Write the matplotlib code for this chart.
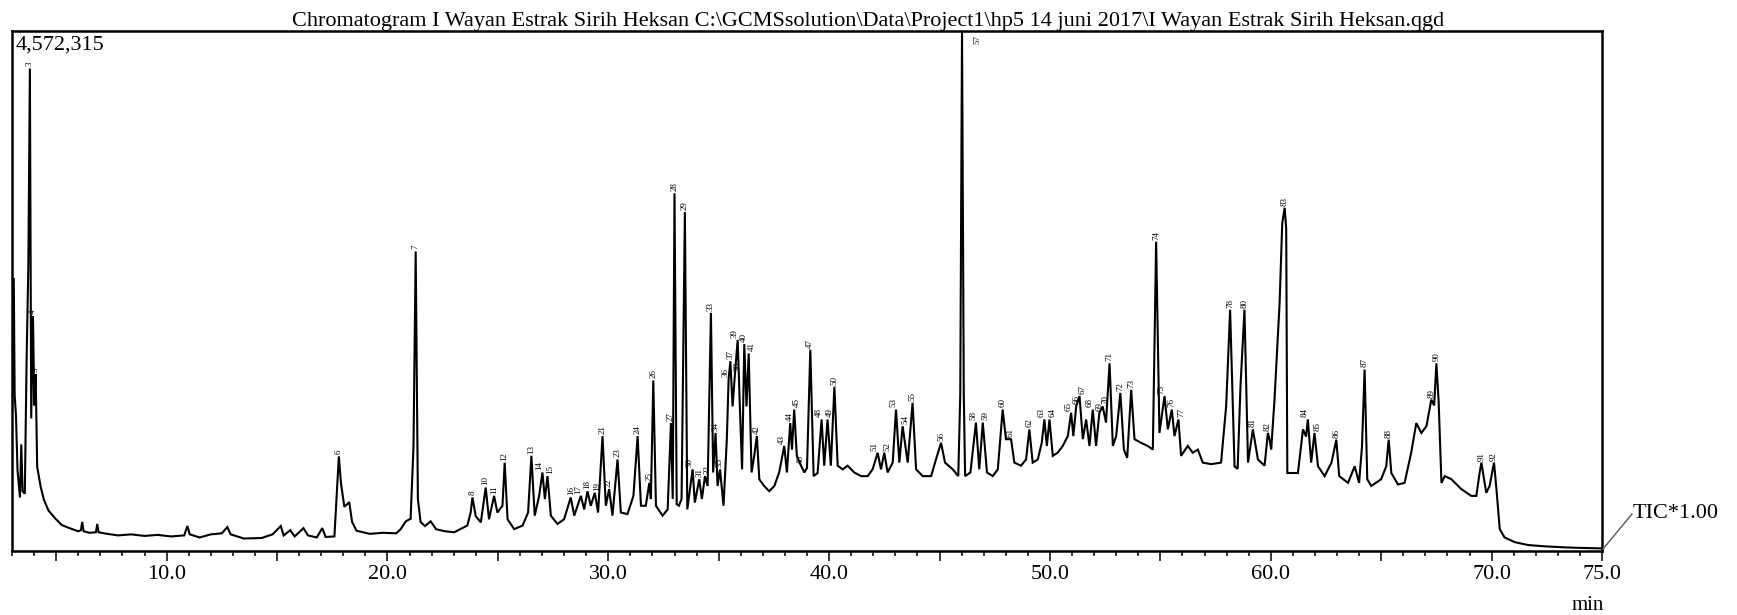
import numpy as np
import matplotlib
matplotlib.use("Agg")
import matplotlib.pyplot as plt
from matplotlib.lines import Line2D
from matplotlib.ticker import FixedLocator, MultipleLocator, FuncFormatter

plt.rcParams['font.family'] = ['Liberation Serif', 'DejaVu Serif']

title = (r"Chromatogram I Wayan Estrak Sirih Heksan C:\GCMSsolution\Data\Project1"
         r"\hp5 14 juni 2017\I Wayan Estrak Sirih Heksan.qgd")
max_intensity = 4572315
detector = "TIC*1.00"

# TIC trace: (retention time [min], intensity [% of max])
trace_early = [
    (3.00, 27.0), (3.05, 42.0), (3.08, 52.5), (3.12, 30.0), (3.18, 26.0), (3.25, 15.5),
    (3.36, 10.3), (3.42, 20.5), (3.48, 11.5), (3.58, 11.0), (3.66, 36.5), (3.74, 55.0),
    (3.81, 92.8), (3.87, 25.5), (3.95, 45.2), (4.01, 28.0), (4.07, 34.0), (4.14, 16.2),
    (4.30, 12.3), (4.45, 9.8), (4.65, 7.8), (4.95, 6.3), (5.25, 5.0), (5.60, 4.4),
    (6.00, 3.8), (6.12, 4.0), (6.18, 5.6), (6.24, 3.8), (6.50, 3.5), (6.80, 3.6),
    (6.86, 5.2), (6.92, 3.6), (7.30, 3.3), (7.80, 3.0), (8.40, 3.2), (9.00, 2.9),
    (9.60, 3.1), (10.20, 2.8), (10.80, 3.0), (10.94, 4.8), (11.05, 3.2), (11.50, 2.6),
    (12.00, 3.2), (12.50, 3.4), (12.75, 4.6), (12.90, 3.2), (13.50, 2.4), (14.30, 2.5),
    (14.80, 3.2), (15.17, 4.8), (15.30, 3.0), (15.60, 4.0), (15.80, 2.8), (16.20, 4.4),
    (16.40, 3.0), (16.80, 2.6), (17.05, 4.4), (17.20, 2.7), (17.60, 2.8), (17.72, 12.0),
    (17.80, 18.2), (17.90, 12.9), (18.05, 8.5), (18.27, 9.4), (18.40, 5.6), (18.60, 3.9),
    (19.20, 3.3), (19.80, 3.5), (20.40, 3.4), (20.60, 4.2), (20.83, 5.7), (21.05, 6.2),
    (21.18, 20.0), (21.28, 57.6), (21.38, 10.0), (21.50, 5.6), (21.70, 4.8), (21.96, 5.7),
    (22.20, 4.2), (22.60, 3.8), (23.02, 3.6),
]
trace_middle = [
    (23.30, 4.2), (23.62, 4.9), (23.77, 7.4), (23.85, 10.3), (24.00, 6.7), (24.23, 5.5),
    (24.45, 12.2), (24.60, 6.1), (24.83, 10.6), (24.98, 7.4), (25.21, 8.7), (25.31, 17.0),
    (25.44, 6.1), (25.74, 4.2), (26.12, 4.9), (26.37, 7.4), (26.52, 18.3), (26.67, 6.8),
    (26.87, 10.6), (27.02, 15.1), (27.13, 10.0), (27.25, 14.4), (27.40, 6.8), (27.70, 5.2),
    (28.00, 6.1), (28.30, 10.3), (28.46, 6.8), (28.76, 10.6), (28.91, 8.0), (29.06, 11.5),
    (29.21, 8.7), (29.39, 11.2), (29.54, 7.4), (29.74, 22.1), (29.89, 8.7), (30.04, 11.9),
    (30.19, 6.8), (30.42, 17.6), (30.57, 7.4), (30.87, 7.1), (31.14, 10.6), (31.33, 22.1),
    (31.48, 8.7), (31.70, 8.7), (31.86, 13.1), (31.93, 10.0), (32.04, 32.8), (32.16, 8.7),
    (32.46, 6.8), (32.69, 8.0), (32.84, 24.6), (32.92, 10.0), (33.00, 68.8), (33.10, 9.0),
    (33.20, 8.7), (33.32, 10.0), (33.47, 65.2), (33.58, 8.0), (33.82, 15.7), (33.92, 9.3),
    (34.12, 13.8), (34.24, 10.0), (34.38, 14.4), (34.50, 12.5), (34.65, 45.8), (34.75, 15.1),
    (34.86, 22.7), (34.95, 12.5), (35.06, 15.7), (35.22, 8.7), (35.37, 21.5), (35.45, 33.0),
    (35.53, 36.5), (35.63, 27.8), (35.74, 34.2), (35.86, 40.6), (35.96, 27.8), (36.06, 15.7),
    (36.16, 39.8), (36.26, 27.8), (36.36, 38.0), (36.49, 15.1), (36.61, 18.3), (36.73, 22.1),
    (36.84, 13.8), (37.06, 12.5), (37.29, 11.5), (37.52, 12.5), (37.74, 15.1), (37.97, 20.2),
    (38.09, 15.1), (38.24, 24.6), (38.32, 19.5), (38.42, 27.2), (38.54, 18.3), (38.73, 16.4),
    (38.88, 15.1), (39.00, 16.0), (39.15, 38.7), (39.30, 14.4), (39.48, 15.0), (39.66, 25.3),
    (39.78, 16.4), (39.93, 25.3), (40.08, 16.4), (40.24, 31.6), (40.39, 16.4), (40.62, 15.7),
    (40.84, 16.4), (41.14, 15.1), (41.45, 14.4), (41.75, 14.4), (41.97, 15.7), (42.20, 18.9),
]
trace_late = [
    (42.35, 15.7), (42.50, 18.9), (42.65, 15.1), (42.88, 17.0), (43.03, 27.2), (43.18, 17.0),
    (43.33, 24.0), (43.56, 17.0), (43.78, 28.5), (43.94, 15.7), (44.24, 14.4), (44.62, 14.4),
    (44.84, 17.6), (45.07, 20.8), (45.25, 17.0), (45.60, 15.7), (45.85, 14.4), (45.94, 30.0),
    (46.02, 100.0), (46.10, 30.0), (46.16, 14.4), (46.40, 15.1), (46.65, 24.7), (46.80, 15.7),
    (46.96, 24.7), (47.15, 15.1), (47.41, 14.4), (47.64, 15.7), (47.86, 27.2), (48.01, 21.5),
    (48.24, 21.5), (48.39, 17.0), (48.69, 16.4), (48.92, 17.6), (49.07, 23.4), (49.22, 17.0),
    (49.45, 17.6), (49.63, 20.8), (49.75, 25.3), (49.86, 20.2), (49.98, 25.3), (50.13, 18.3),
    (50.35, 18.9), (50.58, 20.2), (50.81, 22.1), (50.96, 26.6), (51.06, 22.1), (51.19, 27.8),
    (51.34, 29.8), (51.49, 21.5), (51.64, 25.3), (51.79, 20.2), (51.94, 27.2), (52.09, 20.2),
    (52.24, 26.6), (52.39, 27.8), (52.54, 24.7), (52.70, 36.1), (52.85, 20.2), (53.00, 22.1),
    (53.19, 30.4), (53.35, 19.5), (53.50, 17.9), (53.68, 31.0), (53.83, 21.5), (54.13, 20.8),
    (54.43, 20.2), (54.66, 19.5), (54.81, 59.5), (54.96, 22.7), (55.19, 29.8), (55.34, 23.4),
    (55.52, 27.2), (55.64, 22.1), (55.82, 25.3), (55.94, 18.3), (56.24, 20.2), (56.47, 18.9),
    (56.70, 19.5), (56.92, 17.0), (57.30, 16.7), (57.75, 17.0), (57.98, 27.8), (58.16, 46.4),
    (58.36, 16.3), (58.50, 15.8), (58.63, 31.7), (58.81, 46.4), (58.97, 17.0), (59.19, 23.4),
    (59.42, 17.6), (59.72, 16.4), (59.87, 22.7), (59.95, 21.4), (60.02, 19.5), (60.17, 29.1),
    (60.40, 47.6), (60.52, 63.0), (60.63, 66.0), (60.70, 62.0), (60.75, 15.0), (61.23, 15.0),
    (61.46, 23.4), (61.60, 22.0), (61.68, 25.3), (61.83, 17.0), (61.98, 22.7), (62.14, 16.3),
    (62.44, 14.4), (62.75, 17.0), (62.97, 21.4), (63.10, 14.4), (63.50, 13.1), (63.80, 16.3),
    (64.00, 13.1), (64.13, 20.0), (64.25, 34.9), (64.37, 13.8), (64.55, 12.5), (65.00, 13.8),
    (65.23, 16.3), (65.34, 21.4), (65.46, 15.0), (65.76, 12.8), (66.06, 13.1), (66.36, 18.9),
    (66.59, 24.6), (66.82, 22.7), (67.05, 24.0), (67.27, 29.1), (67.40, 28.0), (67.50, 36.1),
    (67.60, 29.0), (67.73, 13.1), (67.88, 14.4), (68.18, 13.8), (68.63, 11.9), (69.08, 10.6),
    (69.31, 10.6), (69.46, 15.1), (69.54, 17.0), (69.65, 14.0), (69.76, 11.2), (69.91, 12.5),
    (70.11, 17.0), (70.22, 11.9), (70.37, 4.2), (70.59, 2.6), (71.05, 1.7), (71.65, 1.15),
    (72.40, 0.9), (73.30, 0.7), (74.00, 0.6), (75.00, 0.5),
]

# labelled peaks: number and retention time
peak_no = [3, 4, 5, 6, 7, 8, 10, 11, 12, 13, 14, 15, 16, 17, 18, 19, 21, 22, 23, 24,
           25, 26, 27, 28, 29, 30, 31, 32, 33, 34, 35, 36, 37, 38, 39, 40, 41, 42, 43, 44,
           45, 46, 47, 48, 49, 50, 51, 52, 53, 54, 55, 56, 57, 58, 59, 60, 61, 62, 63, 64,
           65, 66, 67, 68, 69, 70, 71, 72, 73, 74, 75, 76, 77, 78, 80, 81, 82, 83, 84, 85,
           86, 87, 88, 89, 90, 91, 92]
peak_rt = [3.81, 3.95, 4.07, 17.80, 21.28, 23.85, 24.45, 24.83, 25.31, 26.52, 27.02, 27.25,
           28.30, 28.76, 29.06, 29.39, 29.74, 30.04, 30.42, 31.33, 31.86, 32.04, 32.84, 33.00,
           33.47, 33.82, 34.12, 34.38, 34.65, 34.86, 35.06, 35.45, 35.53, 35.74, 35.86, 36.16,
           36.36, 36.73, 37.97, 38.24, 38.42, 38.73, 39.15, 39.66, 39.93, 40.24, 42.20, 42.50,
           43.03, 43.33, 43.78, 45.07, 46.02, 46.65, 46.96, 47.86, 48.24, 49.07, 49.75, 49.98,
           50.96, 51.19, 51.34, 51.94, 52.24, 52.39, 52.70, 53.19, 53.68, 54.81, 55.19, 55.52,
           55.82, 58.16, 58.81, 59.19, 59.87, 60.63, 61.68, 61.98, 62.97, 64.25, 65.34, 67.27,
           67.50, 69.54, 70.11]

W, H = 1737, 615
fig = plt.figure(figsize=(W / 100, H / 100), dpi=100)
ax = fig.add_axes([12 / W, 1 - 551 / H, (1602 - 12) / W, (551 - 31) / H])

trace = trace_early + trace_middle + trace_late
t = np.array([p[0] for p in trace])
y = np.array([p[1] for p in trace]) / 100 * max_intensity
ax.plot(t, y, color='black', lw=1.5, solid_joinstyle='miter')

ax.set_xlim(3.0, 75.0)
ax.set_ylim(0, max_intensity)
ax.set_yticks([])
ax.xaxis.set_major_locator(FixedLocator(np.arange(5, 76, 5)))
ax.xaxis.set_minor_locator(MultipleLocator(1))
ax.xaxis.set_major_formatter(FuncFormatter(
    lambda v, p: f"{v:.1f}" if (round(v) % 10 == 0 or round(v) == 75) else ""))
ax.tick_params(axis='x', which='major', length=7, width=1.1, labelsize=16, pad=3)
ax.tick_params(axis='x', which='minor', length=3.5, width=1.1)
for s in ax.spines.values():
    s.set_linewidth(1.8)

# peak numbers above each apex; close neighbours are spread apart a little
tops = []
for rt in peak_rt:
    win = (t >= rt - 0.05) & (t <= rt + 0.05)
    tops.append(y[win].max())
dx = [0.0] * len(peak_rt)
for i in range(1, len(peak_rt)):
    if peak_rt[i] - peak_rt[i - 1] < 0.36 and abs(tops[i] - tops[i - 1]) < 0.06 * max_intensity:
        dx[i - 1] -= 2.0
        dx[i] += 2.0

for no, rt, top, off in zip(peak_no, peak_rt, tops, dx):
    if top >= 0.95 * max_intensity:
        ax.annotate(str(no), (rt, top), xytext=(11, -3), textcoords='offset points',
                    rotation=90, ha='center', va='top', fontsize=6.5)
    else:
        ax.annotate(str(no), (rt, top), xytext=(off, 1.5), textcoords='offset points',
                    rotation=90, ha='center', va='bottom', fontsize=6.5)

ax.text(0.002, 0.992, f"{max_intensity:,}", transform=ax.transAxes,
        ha='left', va='top', fontsize=16)
fig.text(0.5, 1 - 26 / H, title, ha='center', va='baseline', fontsize=16)
fig.text(1588 / W, 1 - 605 / H, "min", ha='center', va='center', fontsize=15)
fig.add_artist(Line2D([1603 / W, 1632 / W], [1 - 549 / H, 1 - 514 / H],
                      transform=fig.transFigure, color='#555555', lw=1))
fig.text(1633 / W, 1 - 513 / H, detector, ha='left', va='center', fontsize=16)

fig.savefig('out.png', dpi=100)
